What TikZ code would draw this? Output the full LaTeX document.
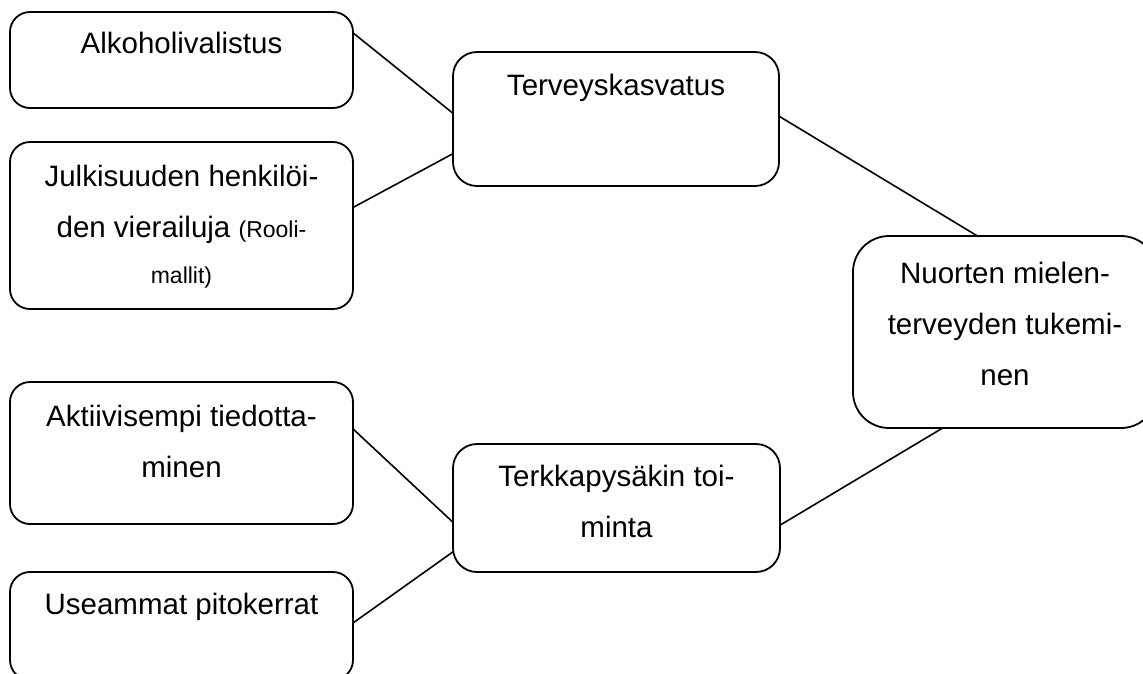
\documentclass[tikz,border=0pt]{standalone}
\usepackage{fontspec}
\setmainfont{Liberation Sans}
\begin{document}
\begin{tikzpicture}[x=1pt,y=-1pt,
  box/.style={draw=black, line width=1.8pt, rounded corners=20pt, fill=white, inner sep=0pt, outer sep=0pt},
  txt/.style={anchor=base, align=center, inner sep=0pt, font=\fontsize{29.5pt}{51pt}\selectfont},
  small/.style={},
  link/.style={draw=black, line width=1.6pt}]
\useasboundingbox (0,0) rectangle (1143,673);
\clip (0,0) rectangle (1143,673);
% boxes
\node[box, minimum width=343pt, minimum height=96pt] (A) at (181.5,60) {};
\node[box, minimum width=343pt, minimum height=167pt] (J) at (181.5,225.5) {};
\node[box, minimum width=343pt, minimum height=142pt] (Ak) at (181.5,453) {};
\node[box, minimum width=343pt, minimum height=108pt] (U) at (181.5,626) {};
\node[box, minimum width=326pt, minimum height=134pt, rounded corners=24pt] (T) at (616,119) {};
\node[box, minimum width=327pt, minimum height=128pt, rounded corners=24pt] (Tk) at (616.5,508) {};
\node[box, minimum width=304pt, minimum height=192pt, rounded corners=36pt] (N) at (1005,332) {};
% texts (anchor base = baseline of the last line)
\node[txt] (At) at (181.5,53) {Alkoholivalistus};
\node[txt] (Jt) at (181.5,283) {Julkisuuden henkilöi-\\den vierailuja {\fontsize{23pt}{28pt}\selectfont(Rooli-}\\[-5pt]{\fontsize{23pt}{28pt}\selectfont mallit)}};
\node[txt] (Akt) at (181.5,477) {Aktiivisempi tiedotta-\\minen};
\node[txt] (Ut) at (181.5,614) {Useammat pitokerrat};
\node[txt] (Tt) at (616,95) {Terveyskasvatus};
\node[txt] (Tkt) at (616.5,537) {Terkkapysäkin toi-\\minta};
\node[txt] (Nt) at (1005,385) {Nuorten mielen-\\terveyden tukemi-\\nen};
% connectors
\draw[link] (A.9.9) -- (T.178.9);
\draw[link] (J.6.2) -- (T.192.1);
\draw[link] (T.1) -- (N.106.3);
\draw[link] (Ak.8.3) -- (Tk.185.2);
\draw[link] (U.1.3) -- (Tk.195.1);
\draw[link] (Tk.354.8) -- (N.237.1);
\end{tikzpicture}
\end{document}
